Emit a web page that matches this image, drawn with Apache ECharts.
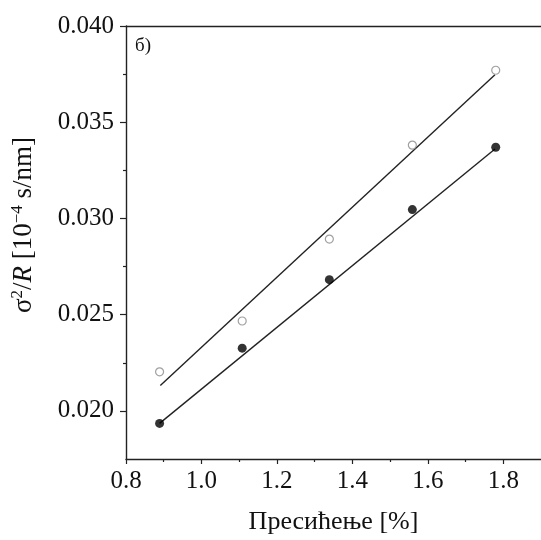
<!DOCTYPE html>
<html>
<head>
<meta charset="utf-8">
<script src="https://cdn.jsdelivr.net/npm/echarts@6/dist/echarts.min.js"></script>
<style>html,body{margin:0;padding:0;background:#fff;}#c{width:541px;height:540px;}</style>
</head>
<body>
<div id="c"></div>
<script>
// Data
const xValues = [0.889, 1.108, 1.339, 1.559, 1.780];
const openValues = [0.02203, 0.02467, 0.02893, 0.03381, 0.03770];
const filledValues = [0.01935, 0.02326, 0.02682, 0.03046, 0.03370];
// fitted lines (endpoints)
const openFitX = [0.891, 1.778];
const openFitY = [0.02132, 0.03747];
const filledFitX = [0.889, 1.778];
const filledFitY = [0.01935, 0.03361];
const xTicks = [0.8, 1.0, 1.2, 1.4, 1.6, 1.8];
const yTicks = [0.020, 0.025, 0.030, 0.035, 0.040];

const zip = (a, b) => a.map((v, i) => [v, b[i]]);
const FONT = 'Liberation Serif';
const axisColor = '#222';

const chart = echarts.init(document.getElementById('c'));
chart.setOption({
  animation: false,
  backgroundColor: '#fff',
  title: {
    text: 'б)', left: 130, top: 32,
    textStyle: { fontFamily: FONT, fontSize: 19, fontWeight: 'normal', color: '#111' }
  },
  grid: { left: 126, top: 26, width: 419.7, height: 436 },
  xAxis: [{
    type: 'value', min: 0.8, max: 1.9, interval: 0.2,
    name: 'Пресићење [%]', nameLocation: 'middle', nameGap: 50,
    nameTextStyle: { fontFamily: FONT, fontSize: 26, color: '#111' },
    axisLine: { show: true, onZero: false, lineStyle: { color: axisColor, width: 1.4 } },
    axisTick: { show: true, inside: false, length: 5, customValues: xTicks, lineStyle: { color: axisColor, width: 1.2 } },
    minorTick: { show: true, splitNumber: 2, length: 3, lineStyle: { color: axisColor, width: 1.2 } },
    axisLabel: { customValues: xTicks, margin: 10, fontFamily: FONT, fontSize: 25, color: '#111',
      formatter: v => v.toFixed(1) },
    splitLine: { show: false }
  }, {
    type: 'value', position: 'top', min: 0.8, max: 1.9,
    axisLine: { show: true, onZero: false, lineStyle: { color: axisColor, width: 1.4 } },
    axisTick: { show: false }, axisLabel: { show: false }, splitLine: { show: false }
  }],
  yAxis: {
    type: 'value', min: 0.0175, max: 0.040,
    name: '{a|σ}{s|2}{a|/}{i|R}{a| [10}{s|−4}{a| s/nm]}',
    nameLocation: 'middle', nameGap: 87,
    nameTextStyle: {
      padding: [0, 0, 0, 35],
      rich: {
        a: { fontFamily: FONT, fontSize: 27, lineHeight: 30, color: '#111' },
        i: { fontFamily: FONT, fontSize: 27, lineHeight: 30, fontStyle: 'italic', color: '#111' },
        s: { fontFamily: FONT, fontSize: 17, lineHeight: 14, verticalAlign: 'top', color: '#111' }
      }
    },
    axisLine: { show: true, onZero: false, lineStyle: { color: axisColor, width: 1.4 } },
    axisTick: { show: true, inside: false, length: 6, customValues: yTicks, lineStyle: { color: axisColor, width: 1.2 } },
    minorTick: { show: true, splitNumber: 2, length: 3, lineStyle: { color: axisColor, width: 1.2 } },
    axisLabel: { customValues: yTicks, margin: 12, fontFamily: FONT, fontSize: 25, color: '#111',
      formatter: v => v.toFixed(3) },
    splitLine: { show: false }
  },
  series: [
    { type: 'line', data: zip(openFitX, openFitY), symbol: 'none', lineStyle: { color: '#222', width: 1.4 }, z: 2 },
    { type: 'line', data: zip(filledFitX, filledFitY), symbol: 'none', lineStyle: { color: '#222', width: 1.4 }, z: 2 },
    { type: 'scatter', data: zip(xValues, openValues), symbol: 'circle', symbolSize: 8,
      itemStyle: { color: '#fff', borderColor: '#888', borderWidth: 1.2 }, z: 3 },
    { type: 'scatter', data: zip(xValues, filledValues), symbol: 'circle', symbolSize: 9,
      itemStyle: { color: '#000' }, z: 3 }
  ]
});
</script>
</body>
</html>
